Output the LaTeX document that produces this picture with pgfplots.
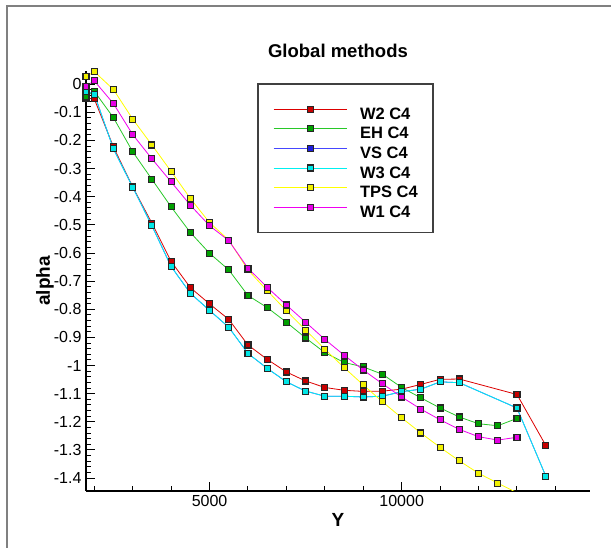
\documentclass[border=0pt]{standalone}
\usepackage{fontspec}
\setmainfont{Liberation Sans}
\usepackage{pgfplots}
\pgfplotsset{compat=1.18}
\usepackage{pgfplotstable}

\definecolor{cRedL}{RGB}{220,0,0}
\definecolor{cRedM}{RGB}{200,0,0}
\definecolor{cGrnL}{RGB}{40,200,40}
\definecolor{cGrnM}{RGB}{0,160,0}
\definecolor{cBluL}{RGB}{70,70,255}
\definecolor{cBluM}{RGB}{30,30,220}
\definecolor{cCyaL}{RGB}{0,240,240}
\definecolor{cCyaM}{RGB}{0,230,230}
\definecolor{cYelL}{RGB}{255,255,0}
\definecolor{cYelM}{RGB}{240,240,0}
\definecolor{cMagL}{RGB}{240,0,240}
\definecolor{cMagM}{RGB}{230,0,230}

\pgfplotstableread{
x y
1785 -0.049
2000 -0.052
2500 -0.223
3000 -0.365
3500 -0.494
4000 -0.630
4500 -0.723
5000 -0.781
5500 -0.836
6000 -0.927
6500 -0.978
7000 -1.023
7500 -1.055
8000 -1.078
8500 -1.088
9000 -1.092
9500 -1.091
10000 -1.084
10500 -1.067
11000 -1.049
11500 -1.048
13000 -1.103
13750 -1.284
}\tWtwo

\pgfplotstableread{
x y
1785 -0.043
2000 -0.025
2500 -0.119
3000 -0.240
3500 -0.338
4000 -0.436
4500 -0.527
5000 -0.601
5500 -0.660
6000 -0.751
6500 -0.794
7000 -0.846
7500 -0.902
8000 -0.954
8500 -0.989
9000 -1.005
9500 -1.031
10000 -1.078
10500 -1.115
11000 -1.151
11500 -1.183
12000 -1.207
12500 -1.214
13000 -1.188
}\tEH

\pgfplotstableread{
x y
1785 -0.025
2000 -0.035
2500 -0.230
3000 -0.366
3500 -0.503
4000 -0.648
4500 -0.743
5000 -0.804
5500 -0.864
6000 -0.957
6500 -1.010
7000 -1.058
7500 -1.091
8000 -1.109
8500 -1.109
9000 -1.112
9500 -1.109
10000 -1.093
10500 -1.084
11000 -1.058
11500 -1.061
13000 -1.151
13750 -1.393
}\tWthree

\pgfplotstableread{
x y
1785 0.026
2000 0.045
2500 -0.019
3000 -0.124
3500 -0.216
4000 -0.310
4500 -0.406
5000 -0.492
5500 -0.554
6000 -0.660
6500 -0.734
7000 -0.805
7500 -0.874
8000 -0.942
8500 -1.007
9000 -1.069
9500 -1.129
10000 -1.186
10500 -1.240
11000 -1.291
11500 -1.339
12000 -1.383
12500 -1.418
}\tTPS

\pgfplotstableread{
x y
12500 -1.418
13000 -1.452
}\tTPSend

\pgfplotstableread{
x y
1785 -0.007
2000 0.012
2500 -0.069
3000 -0.179
3500 -0.265
4000 -0.347
4500 -0.430
5000 -0.503
5500 -0.556
6000 -0.654
6500 -0.722
7000 -0.785
7500 -0.846
8000 -0.907
8500 -0.963
9000 -1.016
9500 -1.065
10000 -1.112
10500 -1.155
11000 -1.193
11500 -1.227
12000 -1.253
12500 -1.265
13000 -1.255
}\tWone

\begin{document}
\begin{tikzpicture}
\draw[gray, line width=1.2pt] (7pt,542pt) rectangle (640pt,-20pt);
\begin{axis}[
  at={(86pt,57pt)}, anchor=south west,
  scale only axis, width=504pt, height=420pt,
  xmin=1785, xmax=14900, ymin=-1.446, ymax=0.047,
  axis lines=left,
  axis line style={-, line width=1.6pt},
  tick align=inside,
  tick style={black, line width=1pt},
  major tick length=9pt, minor tick length=5pt,
  scaled x ticks=false, scaled y ticks=false,
  xtick={5000,10000},
  minor xtick={2000,3000,4000,6000,7000,8000,9000,11000,12000,13000,14000},
  ytick={-1.4,-1.3,-1.2,-1.1,-1,-0.9,-0.8,-0.7,-0.6,-0.5,-0.4,-0.3,-0.2,-0.1,0},
  minor y tick num=4,
  /pgf/number format/assume math mode=true,
  /pgf/number format/1000 sep={},
  xticklabel={\pgfmathprintnumber[fixed,precision=0,1000 sep={},assume math mode=true]{\tick}},
  yticklabel style={/pgf/number format/fixed, /pgf/number format/precision=1},
  ticklabel style={font=\fontsize{16}{19}\selectfont},
  xticklabel style={yshift=-1pt},
  yticklabel style={xshift=-1pt},
  title={Global methods},
  xlabel={Y}, ylabel={alpha},
  every axis title/.style={at={(axis description cs:0.5,1.048)}, anchor=center, font=\bfseries\fontsize{18.5}{21}\selectfont},
  every axis x label/.style={at={(axis description cs:0.5,-0.069)}, anchor=center, font=\bfseries\fontsize{19}{22}\selectfont},
  every axis y label/.style={at={(axis description cs:-0.0813,0.5)}, rotate=90, anchor=center, font=\bfseries\fontsize{19}{22}\selectfont},
  legend style={at={(axis description cs:0.3413,0.969)}, anchor=north west,
    name=leg, draw=none, fill=white,
    inner xsep=15pt, inner ysep=15pt, row sep=-0.4pt, column sep=13pt,
    nodes={inner sep=0pt, text height=20pt, text depth=0pt},
    font=\bfseries\fontsize{16.5}{19}\selectfont},
  legend cell align=left,
  legend image code/.code={\draw[#1, mark repeat=2, mark phase=2] plot coordinates {(0pt,0pt) (36.5pt,0pt) (73pt,0pt)};},
  every axis plot/.append style={line width=0.8pt, mark=square*, mark size=3pt},
]
\addplot[draw=cRedL, mark options={draw=black!85, fill=cRedM, line width=1.1pt}] table[x=x,y=y] {\tWtwo};
\addlegendentry{W2 C4}
\addplot[draw=cGrnL, mark options={draw=black!85, fill=cGrnM, line width=1.1pt}] table[x=x,y=y] {\tEH};
\addlegendentry{EH C4}
\addplot[draw=cBluL, mark options={draw=black!85, fill=cBluM, line width=1.1pt}] table[x=x,y=y] {\tWthree};
\addlegendentry{VS C4}
\addplot[draw=cCyaL, mark options={draw=black!85, fill=cCyaM, line width=1.1pt}] table[x=x,y=y] {\tWthree};
\addlegendentry{W3 C4}
\addplot[draw=cYelL, mark options={draw=black!85, fill=cYelM, line width=1.1pt}] table[x=x,y=y] {\tTPS};
\addlegendentry{TPS C4}
\addplot[draw=cYelL, no marks, forget plot] table[x=x,y=y] {\tTPSend};
\addplot[draw=cMagL, mark options={draw=black!85, fill=cMagM, line width=1.1pt}] table[x=x,y=y] {\tWone};
\addlegendentry{W1 C4}
\end{axis}
\draw[black!75, line width=1.2pt] (leg.north west) rectangle (leg.south east);
\pgfresetboundingbox
\useasboundingbox (0pt,0pt) rectangle (611pt,548pt);
\end{tikzpicture}
\end{document}
